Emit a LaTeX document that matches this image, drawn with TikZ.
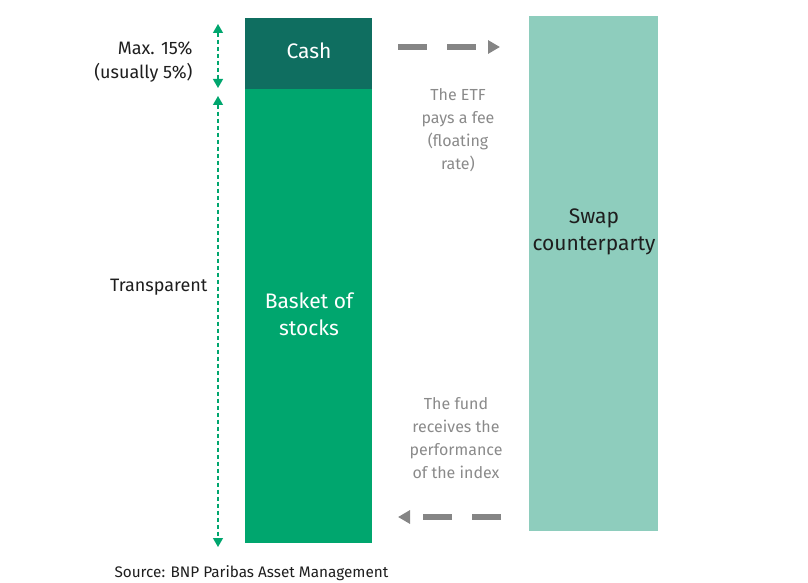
\documentclass[tikz,border=0pt]{standalone}
\usepackage{fontspec}
\setmainfont{Fira Sans}
\usepackage{tikz}
\usetikzlibrary{positioning,arrows.meta}

\definecolor{cashgreen}{HTML}{0F6E60}
\definecolor{basketgreen}{HTML}{00A66E}
\definecolor{swapgreen}{HTML}{8ECDBD}
\definecolor{arrowgray}{HTML}{858585}
\definecolor{labelgray}{HTML}{8A8A8A}
\definecolor{textblack}{HTML}{1E1E1E}

\tikzset{
	flowarrow/.style={arrowgray, line width=6pt, dash pattern=on 29pt off 20pt, -{Triangle[length=12pt,width=13pt]}},
	sizearrow/.style={basketgreen, line width=1.3pt, dash pattern=on 4pt off 3pt, {Triangle[length=9pt,width=10pt]}-{Triangle[length=9pt,width=10pt]}},
	flowlabel/.style={labelgray, font=\fontsize{16}{23}\selectfont, align=center},
	sidelabel/.style={textblack, font=\fontsize{18}{24}\selectfont, align=right},
	boxlabel/.style={font=\fontsize{21}{27}\selectfont, align=center}
}

\begin{document}
\begin{tikzpicture}[x=1pt, y=-1pt]
		\useasboundingbox (0,0) rectangle (808,583);
		% fund side
		\fill[cashgreen] (245,18) rectangle (372,89);
		\fill[basketgreen] (245,89) rectangle (372,543);
		\node[boxlabel, white] (cash) at (309,51) {Cash};
		\node[boxlabel, white] (basket) at (309,314) {Basket of\\stocks};
		% counterparty
		\fill[swapgreen] (529,16) rectangle (658,531);
		\node[boxlabel, textblack] (swap) at (594,232) {Swap\\counterparty};
		% size markers
		\coordinate (cashtop) at (218,24);
		\coordinate (cashbot) at (218,88);
		\coordinate (baskettop) at (218,96);
		\coordinate (basketbot) at (218,547);
		\draw[sizearrow] (cashtop) -- (cashbot);
		\draw[sizearrow] (baskettop) -- (basketbot);
		\node[sidelabel, anchor=east] (maxcash) at (196,62) {Max. 15\%\\(usually 5\%)};
		\node[sidelabel, anchor=east] (transp) at (211,287) {Transparent};
		% flows
		\coordinate (feestart) at (398,47);
		\coordinate (feeend) at (500,47);
		\draw[flowarrow] (feestart) -- (feeend);
		\node[flowlabel] (fee) at (458,130) {The ETF\\pays a fee\\(floating\\rate)};
		\coordinate (perfstart) at (501,517);
		\coordinate (perfend) at (398,517);
		\draw[flowarrow] (perfstart) -- (perfend);
		\node[flowlabel] (perf) at (456,438) {The fund\\receives the\\performance\\of the index};
		% source
		\node[textblack, font=\fontsize{15.3}{18}\selectfont, anchor=west] (source) at (111,573) {Source: BNP Paribas Asset Management};
\end{tikzpicture}
\end{document}
